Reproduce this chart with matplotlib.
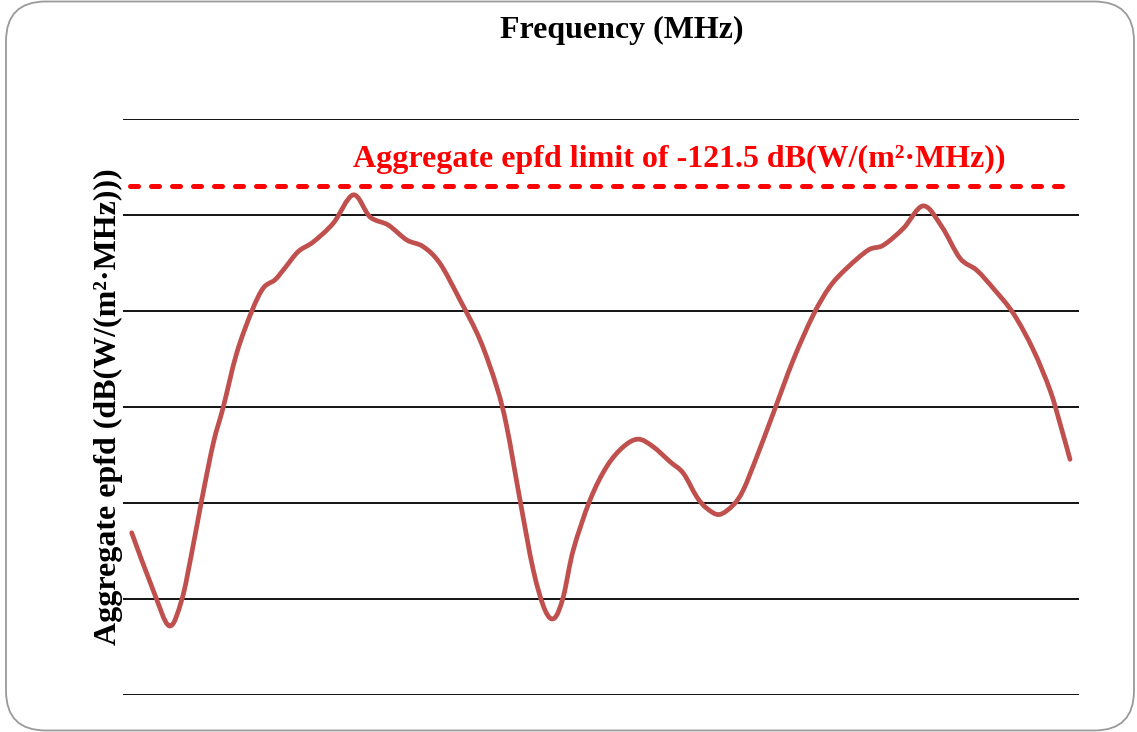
import matplotlib
matplotlib.use("Agg")
import matplotlib.pyplot as plt
from matplotlib.patches import FancyBboxPatch, PathPatch
from matplotlib.path import Path
import numpy as np

# Frequency axis in arbitrary units (0..100 across the plot), epfd in dB
freq = [0.91, 3.14, 4.84, 6.14, 7.19, 8.23, 9.45, 10.49, 11.89, 13.46, 14.68, 15.90,
        16.95, 18.34, 19.91, 22.00, 24.09, 25.84, 27.75, 29.68, 31.41, 33.16, 35.25,
        37.34, 39.09, 40.14, 41.53, 42.92, 44.14, 45.12, 46.06, 47.10, 48.85, 50.60,
        52.33, 53.90, 55.47, 57.22, 58.61, 60.01, 61.06, 62.37, 63.84, 64.88, 66.29,
        68.02, 70.11, 72.21, 73.95, 75.70, 77.96, 79.53, 81.62, 83.71, 85.64, 87.55,
        89.30, 91.04, 93.13, 95.22, 96.97, 98.01, 99.06]
epfd = [-128.62, -129.81, -130.56, -130.02, -129.04, -127.94, -126.75, -126.00,
        -124.88, -124.01, -123.52, -123.35, -123.10, -122.76, -122.56, -122.17,
        -121.58, -122.04, -122.21, -122.52, -122.66, -123.01, -123.77, -124.60,
        -125.58, -126.41, -127.94, -129.40, -130.23, -130.40, -129.95, -128.98,
        -127.94, -127.24, -126.83, -126.67, -126.83, -127.14, -127.38, -127.87,
        -128.11, -128.24, -128.04, -127.73, -127.04, -126.13, -125.02, -124.08,
        -123.49, -123.11, -122.73, -122.63, -122.28, -121.81, -122.24, -122.90,
        -123.15, -123.53, -124.05, -124.81, -125.65, -126.34, -127.09]

grid_levels = [-120, -122, -124, -126, -128, -130, -132]
limit_level = -121.4
limit_label = "Aggregate epfd limit of -121.5 dB(W/(m\u00b2\u00b7MHz))"


def smoothPath(x, y):
    """Bezier path through the points, like a spreadsheet 'smoothed line'."""
    pts = np.column_stack([x, y])
    verts = [pts[0]]
    codes = [Path.MOVETO]
    n = len(pts)
    for i in range(n - 1):
        p0 = pts[max(i - 1, 0)]
        p1 = pts[i]
        p2 = pts[i + 1]
        p3 = pts[min(i + 2, n - 1)]
        c1 = p1 + (p2 - p0) / 6.0
        c2 = p2 - (p3 - p1) / 6.0
        verts += [c1, c2, p2]
        codes += [Path.CURVE4] * 3
    return Path(verts, codes)


plt.rcParams['font.family'] = ['Liberation Serif', 'DejaVu Serif']

fig = plt.figure(figsize=(11.37, 7.32), dpi=100)

# rounded outer frame, kept behind the axes
frame = FancyBboxPatch((6 / 1137, 1.5 / 732), 1128 / 1137, 729 / 732,
                       boxstyle="round,pad=0,rounding_size=0.035",
                       transform=fig.transFigure, facecolor='white',
                       edgecolor='#9a9a9a', linewidth=1.3, mutation_aspect=1137 / 732,
                       zorder=-10)
fig.patches.append(frame)

ax = fig.add_axes([123 / 1137, 37 / 732, 956 / 1137, 576 / 732])
ax.set_facecolor('none')
ax.set_zorder(1)

for lvl in grid_levels:
    ax.axhline(lvl, color='black', linewidth=1.3, zorder=1)

curve = PathPatch(smoothPath(freq, epfd), facecolor='none', edgecolor='#C0504D',
                  linewidth=3.4, capstyle='round', joinstyle='round', zorder=3)
ax.add_patch(curve)

ax.plot([0.75, 99.1], [limit_level, limit_level], color='#FF0000', linewidth=3.6,
        dashes=(1.6, 2.6), dash_capstyle='round', zorder=4)
ax.text(58.2, -120.85, limit_label, color='#FF0000', fontsize=23, fontweight='bold',
        ha='center', va='center')

ax.set_xlim(0, 100)
ax.set_ylim(-132, -120)
ax.set_xticks([])
ax.set_yticks([])
for s in ax.spines.values():
    s.set_visible(False)

fig.text(622 / 1137, 1 - 30 / 732, "Frequency (MHz)", fontsize=23, fontweight='bold',
         ha='center', va='center')
fig.text(108 / 1137, 1 - 407 / 732, "Aggregate epfd (dB(W/(m\u00b2\u00b7MHz)))", fontsize=23,
         fontweight='bold', rotation=90, ha='center', va='center')

fig.savefig("out.png", dpi=100)
